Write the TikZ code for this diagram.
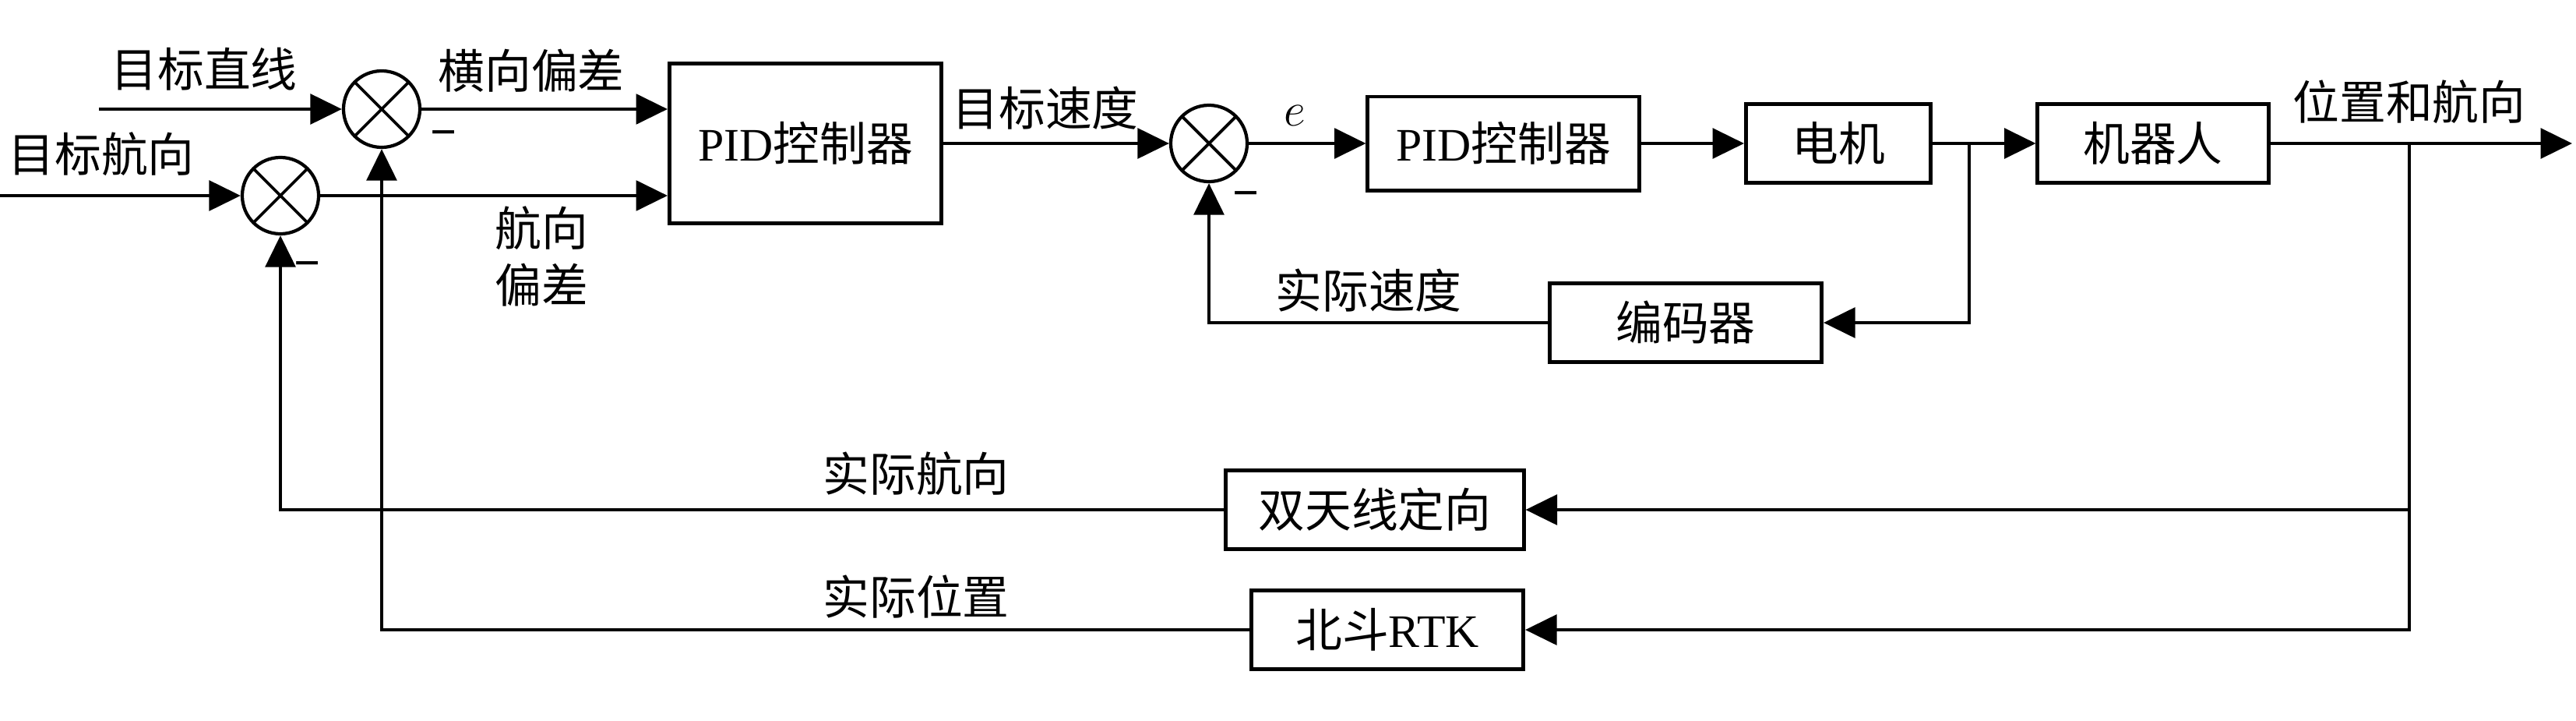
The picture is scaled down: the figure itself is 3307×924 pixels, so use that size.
\documentclass[tikz,border=0pt]{standalone}
\usepackage{fontspec}
\setmainfont{Liberation Serif}
\newfontfamily\cjk{Noto Sans CJK SC}
\usetikzlibrary{arrows.meta,calc}
\begin{document}
\begin{tikzpicture}[x=0.01cm,y=-0.01cm,
  every node/.style={font=\cjk\fontsize{17pt}{20pt}\selectfont},
  blk/.style={draw,line width=1.4pt,inner sep=0pt,minimum height=1.01cm},
  sumnode/.style={circle,draw,line width=1.2pt,minimum size=0.98cm,inner sep=0pt,
    path picture={\draw[line width=1.1pt] (path picture bounding box.north west) -- (path picture bounding box.south east)
      (path picture bounding box.south west) -- (path picture bounding box.north east);}},
  conn/.style={line width=1.1pt},
  arr/.style={conn,-{Triangle[length=11.5pt,width=11pt]}},
  lbl/.style={inner sep=0pt},
  minus/.style={inner sep=0pt,font=\rmfamily\bfseries\fontsize{17pt}{20pt}\selectfont}]
\useasboundingbox (0,0) rectangle (3307,924);

% summing junctions
\node[sumnode] (sum1) at (490,140) {};
\node[sumnode] (sum2) at (360,251) {};
\node[sumnode] (sum3) at (1552,184) {};

% blocks
\node[blk,minimum width=3.49cm,minimum height=2.05cm] (pid1) at (1034,184) {{\rmfamily PID}控制器};
\node[blk,minimum width=3.48cm,minimum height=1.20cm] (pid2) at (1930,184) {{\rmfamily PID}控制器};
\node[blk,minimum width=2.37cm] (motor) at (2360,184) {电机};
\node[blk,minimum width=2.96cm] (robot) at (2764,184) {机器人};
\node[blk,minimum width=3.49cm] (enc) at (2164,414) {编码器};
\node[blk,minimum width=3.82cm] (ant) at (1765,654) {双天线定向};
\node[blk,minimum width=3.49cm] (rtk) at (1781,808) {北斗{\rmfamily RTK}};

% coordinates
\coordinate (in1) at (127,140);
\coordinate (in2) at (0,251);
\coordinate (b1) at (2528,184);
\coordinate (b2) at (3093,184);
\coordinate (outend) at (3302,184);

% labels
\node[lbl] (l1) at (262,89) {目标直线};
\node[lbl] (l2) at (130,198) {目标航向};
\node[lbl] (l3) at (682,91) {横向偏差};
\node[lbl] (l4) at (695,293) {航向};
\node[lbl] (l5) at (695,366) {偏差};
\node[lbl] (l6) at (1342,139) {目标速度};
\node[lbl] (l7) at (1662,148) {$e$};
\node[lbl] (l8) at (1757,373) {实际速度};
\node[lbl] (l9) at (3093,131) {位置和航向};
\node[lbl] (l10) at (1176,608) {实际航向};
\node[lbl] (l11) at (1176,766) {实际位置};
\node[minus] (m1) at (570,179) {−};
\node[minus] (m2) at (395,347) {−};
\node[minus] (m3) at (1600,257) {−};

% forward connections
\draw[arr] (in1) -- (sum1.west);
\draw[arr] (in2) -- (sum2.west);
\draw[arr] (sum1.east) -- (sum1.east -| pid1.west);
\draw[arr] (sum2.east) -- (sum2.east -| pid1.west);
\draw[arr] (pid1.east) -- (sum3.west);
\draw[arr] (sum3.east) -- (pid2.west);
\draw[arr] (pid2.east) -- (motor.west);
\draw[arr] (motor.east) -- (robot.west);
\draw[arr] (robot.east) -- (outend);

% feedback
\draw[arr] (b1) |- (enc.east);
\draw[arr] (enc.west) -| (sum3.south);
\draw[arr] (b2) |- (ant.east);
\draw[arr] (b2) |- (rtk.east);
\draw[arr] (ant.west) -| (sum2.south);
\draw[arr] (rtk.west) -| (sum1.south);
\end{tikzpicture}
\end{document}
